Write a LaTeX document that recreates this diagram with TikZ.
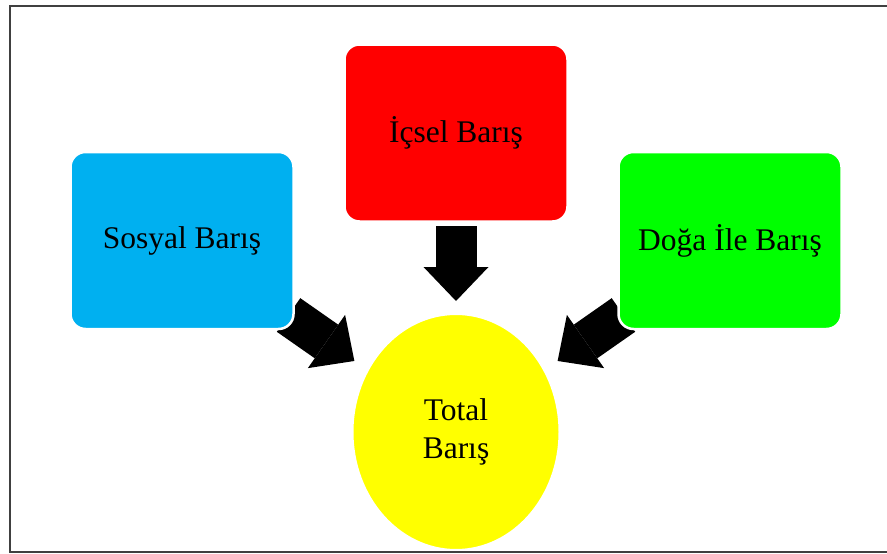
\documentclass[tikz,border=0pt]{standalone}
\usepackage{fontspec}
\setmainfont{Liberation Serif}
\usetikzlibrary{arrows.meta,shapes.geometric}
\pgfdeclarelayer{bg}
\pgfsetlayers{bg,main}

\definecolor{skyblue}{HTML}{00B0F0}
\definecolor{pure red}{HTML}{FF0000}
\definecolor{limegreen}{HTML}{00FF00}
\definecolor{sunyellow}{HTML}{FFFF00}

\begin{document}
\begin{tikzpicture}[x=1pt,y=-1pt,
  card/.style={rectangle, rounded corners=15pt, draw=white, line width=2.5pt,
    minimum width=223pt, minimum height=177pt, inner sep=0pt,
    font=\fontsize{31.5}{38}\selectfont},
  goal/.style={ellipse, fill=sunyellow, draw=white, line width=2pt,
    minimum width=207pt, minimum height=236pt, inner sep=0pt, align=center,
    font=\fontsize{31.5}{38}\selectfont},
  flow/.style={draw=black, line width=41pt,
    -{Triangle[length=34pt,width=65pt,line width=0pt]}},
  frame/.style={draw=black!75, line width=1.5pt}
]
  \clip (0,0) rectangle (887,554);

  % the three sources and the common goal
  \node[card, fill=skyblue]   (social) at (182,240.5) {Sosyal Barış};
  \node[card, fill=pure red]  (inner)  at (456,133)   {İçsel Barış};
  \node[card, fill=limegreen] (nature) at (730,240.5) {Doğa İle Barış};
  \node[goal] (total) at (456,432) {Total\\Barış};

  % block arrows running beneath the boxes
  \begin{pgfonlayer}{bg}
    \draw[flow, shorten <=93pt, shorten >=131pt] (inner.center) -- (total.center);
    \draw[flow, shorten <=130pt, shorten >=124pt] (social.center) -- (total.center);
    \draw[flow, shorten <=130pt, shorten >=124pt] (nature.center) -- (total.center);
  \end{pgfonlayer}

  % outer frame
  \draw[frame] (10,6) rectangle (900,552);
\end{tikzpicture}
\end{document}
